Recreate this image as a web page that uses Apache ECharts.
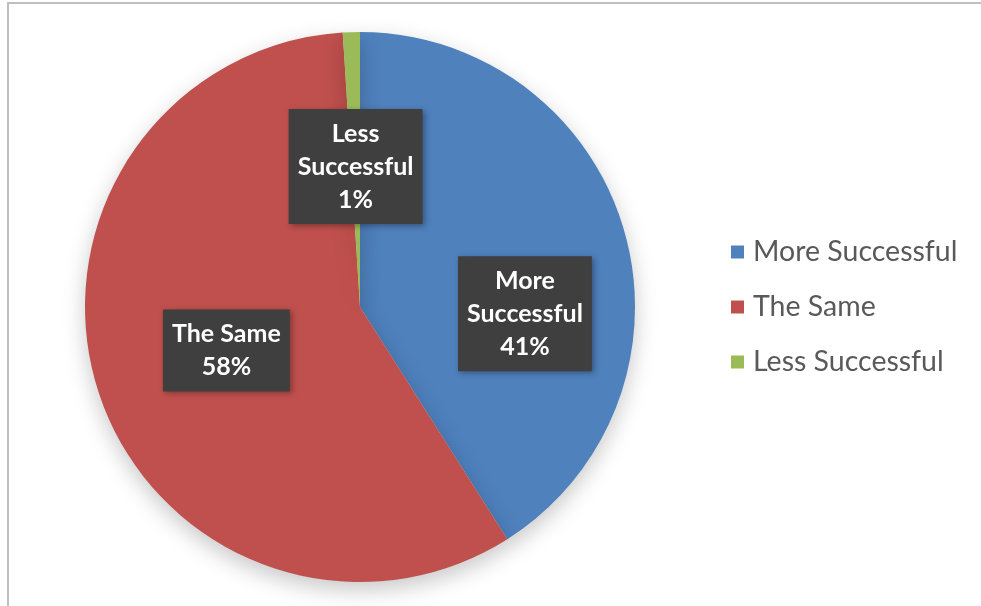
<!DOCTYPE html>
<html>
<head>
<meta charset="utf-8">
<script src="https://cdn.jsdelivr.net/npm/echarts@6/dist/echarts.min.js"></script>
<style>
html,body{margin:0;padding:0;background:#fff;}
#chart{width:981px;height:606px;}
</style>
</head>
<body>
<div id="chart"></div>
<script>
var categories = ['More Successful', 'The Same', 'Less Successful'];
var values = [41, 58, 1];
var labelLines = [['More', 'Successful'], ['The Same'], ['Less', 'Successful']];
var colors = ['#4F81BD', '#C0504D', '#9BBB59'];

var chart = echarts.init(document.getElementById('chart'));
var data = categories.map(function (c, i) {
  return { name: c, value: values[i], itemStyle: { color: colors[i] } };
});
chart.setOption({
  animation: false,
  backgroundColor: '#ffffff',
  graphic: [
    { type: 'line', shape: { x1: 7, y1: 3, x2: 981, y2: 3 }, style: { stroke: '#bfbfbf', lineWidth: 2 } },
    { type: 'line', shape: { x1: 8, y1: 3, x2: 8, y2: 606 }, style: { stroke: '#bfbfbf', lineWidth: 2 } }
  ],
  legend: {
    orient: 'vertical',
    left: 726,
    top: 232,
    itemWidth: 13,
    itemHeight: 13,
    itemGap: 25,
    icon: 'rect',
    data: categories,
    textStyle: { fontFamily: 'Lato', fontSize: 28.5, lineHeight: 30, color: '#595959', padding: [0, 0, 0, 4] }
  },
  series: [{
    type: 'pie',
    center: [360, 307],
    radius: [0, 275],
    startAngle: 90,
    clockwise: true,
    data: data,
    itemStyle: {
      shadowBlur: 22,
      shadowOffsetY: 8,
      shadowColor: 'rgba(0,0,0,0.22)'
    },
    label: {
      show: true,
      position: 'inside',
      formatter: function (p) {
        return labelLines[p.dataIndex].join('\n') + '\n' + Math.round(p.value) + '%';
      },
      color: '#ffffff',
      fontFamily: 'Lato',
      fontWeight: 'bold',
      fontSize: 25,
      lineHeight: 33,
      backgroundColor: '#3f3f3f',
      padding: [8, 9, 8, 9],
      shadowBlur: 6,
      shadowColor: 'rgba(0,0,0,0.35)',
      shadowOffsetX: 2,
      shadowOffsetY: 2
    },
    labelLayout: function (params) {
      if (params.dataIndex === 0) {
        return { dx: 30, dy: 46 };
      }
      return {};
    },
    labelLine: { show: false },
    emphasis: { disabled: true }
  }]
});
</script>
</body>
</html>
